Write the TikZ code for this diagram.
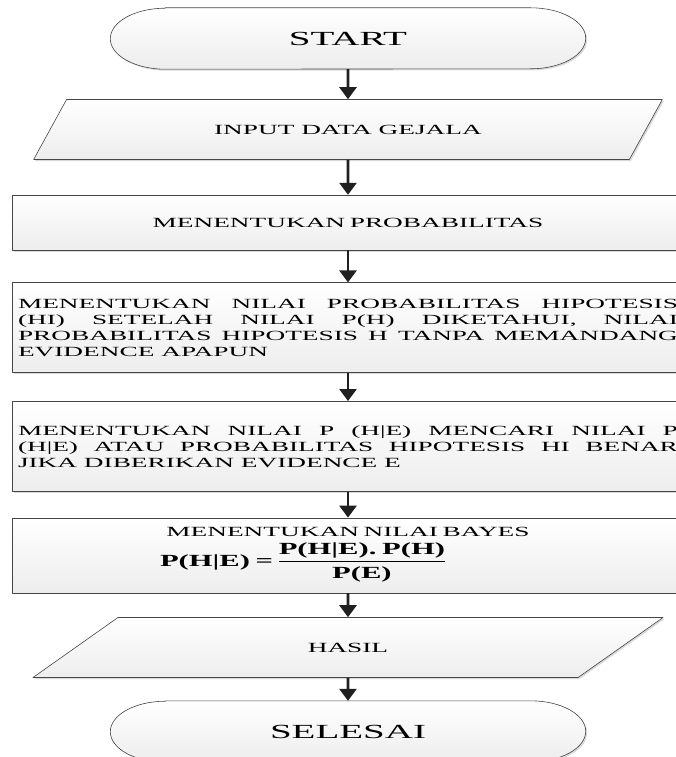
\documentclass[tikz,border=0pt]{standalone}
\usepackage[no-math]{fontspec}
\setmainfont{Liberation Serif}[FakeStretch=1.95]
\newfontfamily\formfont{Liberation Serif}[FakeStretch=1.8]
\usetikzlibrary{positioning, shapes.geometric, arrows.meta, shadows, backgrounds}

\begin{document}
\begin{tikzpicture}[x=1pt, y=1pt, line join=round,
	base/.style = {draw=gray!55!black, line width=0.6pt, top color=white, bottom color=gray!14,
		drop shadow={shadow xshift=1.5pt, shadow yshift=-1.5pt, opacity=0.3}},
	term/.style = {minimum width=475pt, minimum height=61pt, font=\fontsize{20}{22}\selectfont},
	io/.style = {base, trapezium, trapezium left angle=45, trapezium right angle=135, trapezium stretches=true,
		minimum width=631pt, minimum height=60pt, font=\fontsize{14}{16}\selectfont},
	proc/.style = {base, rectangle, inner xsep=6pt, text width=660pt, minimum height=55pt,
		font=\fontsize{14}{16}\selectfont},
	arrow/.style = {draw=gray!25!black, line width=2.6pt, -{Triangle[width=17pt, length=12pt]}}]
	\useasboundingbox (0,0) rectangle (675,-757);
	\node[term] (start) at (348,-38.5) {START};
	\node[io] (input) [below=30pt of start] {INPUT DATA GEJALA};
	\node[proc, align=center] (prob) [below=35pt of input] {MENENTUKAN PROBABILITAS};
	\node[proc, align=justify, minimum height=90pt] (hipo) [below=32pt of prob] {MENENTUKAN NILAI PROBABILITAS HIPOTESIS\linebreak (HI) SETELAH NILAI P(H) DIKETAHUI, NILAI\linebreak PROBABILITAS HIPOTESIS H TANPA MEMANDANG\linebreak EVIDENCE APAPUN};
	\node[proc, align=justify, minimum height=90pt] (cond) [below=28pt of hipo] {MENENTUKAN NILAI P (H|E) MENCARI NILAI P\linebreak (H|E) ATAU PROBABILITAS HIPOTESIS HI BENAR\linebreak JIKA DIBERIKAN EVIDENCE E};
	\node[proc, align=center, minimum height=75pt, inner ysep=1pt] (bayes) [below=26pt of cond] {MENENTUKAN NILAI BAYES\\[4pt]
		\makebox[660pt][l]{\hspace{142pt}\formfont\bfseries\fontsize{17}{18}\selectfont\setlength{\arrayrulewidth}{1.3pt}%
		P(H|E)\,\,=\,\,\begin{tabular}[c]{@{}c@{}}P(H|E).\,\,P(H)\\[1pt]\hline\rule{0pt}{16pt}P(E)\end{tabular}}};
	\node[io] (hasil) [below=24pt of bayes] {HASIL};
	\node[term] (stop) [below=23pt of hasil] {SELESAI};
	% terminal outlines
	\begin{scope}[on background layer]
	\foreach \t in {start, stop}
		\draw[base] ([xshift=55pt]\t.north west) -- ([xshift=-55pt]\t.north east)
			arc[start angle=90, end angle=-90, x radius=55pt, y radius=30.5pt]
			-- ([xshift=55pt]\t.south west)
			arc[start angle=270, end angle=90, x radius=55pt, y radius=30.5pt] -- cycle;
	\end{scope}
	\draw[arrow] (start) -- (input);
	\draw[arrow] (input) -- (prob);
	\draw[arrow] (prob) -- (hipo);
	\draw[arrow] (hipo) -- (cond);
	\draw[arrow] (cond) -- (bayes);
	\draw[arrow] (bayes) -- (hasil);
	\draw[arrow] (hasil) -- (stop);
\end{tikzpicture}
\end{document}
